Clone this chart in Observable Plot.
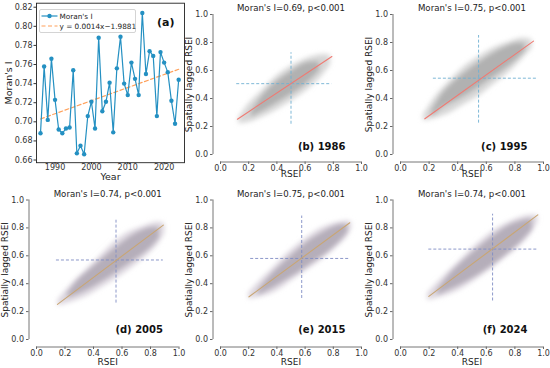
<!DOCTYPE html>
<html><head><meta charset="utf-8">
<script src="https://cdn.jsdelivr.net/npm/d3@7"></script>
<script src="https://cdn.jsdelivr.net/npm/@observablehq/plot@0.6"></script>
<style>
body{margin:0;background:#fff;}
#wrap{position:relative;width:550px;height:368px;overflow:hidden;font-family:"DejaVu Sans",sans-serif;background:#fff;}
.panel{position:absolute;}
.panel svg{overflow:visible;}
#legend{position:absolute;left:38.5px;top:9px;width:95px;height:22px;border:1px solid #d4d4d4;border-radius:2px;background:rgba(255,255,255,0.85);font-size:7.3px;color:#222;}
#legend .row{position:absolute;left:0;height:10px;display:flex;align-items:center;}
#legend span{position:absolute;left:20px;white-space:nowrap;}
</style></head><body><div id="wrap"></div>
<script>
// ---------- Panel (a) data ----------
const years = [1986,1987,1988,1989,1990,1991,1992,1993,1994,1995,1996,1997,1998,1999,2000,2001,2002,2003,2004,2005,2006,2007,2008,2009,2010,2011,2012,2013,2014,2015,2016,2017,2018,2019,2020,2021,2022,2023,2024];
const moransI = [0.688,0.758,0.702,0.766,0.723,0.692,0.688,0.693,0.694,0.754,0.667,0.675,0.666,0.706,0.721,0.693,0.788,0.711,0.721,0.741,0.689,0.756,0.789,0.740,0.728,0.762,0.745,0.728,0.814,0.750,0.774,0.769,0.706,0.773,0.762,0.752,0.722,0.698,0.744];
const trendYears = [1986, 2024];
const trendValues = [0.703, 0.755];
const yTicksA = [0.66,0.68,0.70,0.72,0.74,0.76,0.78,0.80,0.82];
const xTicksA = [1990,2000,2010,2020];
const legendLabels = ["Moran's I", "y = 0.0014x\u22121.9881"];

// ---------- Scatter panels data ----------
const scatterTicks = [0,0.2,0.4,0.6,0.8,1.0];
const panelIds = ["b","c","d","e","f"];
const panelTitles = ["Moran's I=0.69, p<0.001","Moran's I=0.75, p<0.001","Moran's I=0.74, p<0.001","Moran's I=0.75, p<0.001","Moran's I=0.74, p<0.001"];
const panelLabels = ["(b) 1986","(c) 1995","(d) 2005","(e) 2015","(f) 2024"];
// fitted line end points
const fitX1 = [0.12, 0.17, 0.147, 0.202, 0.198];
const fitY1 = [0.252, 0.255, 0.252, 0.306, 0.309];
const fitX2 = [0.79, 0.93, 0.89, 0.917, 0.96];
const fitY2 = [0.70, 0.81, 0.82, 0.837, 0.893];
// mean cross-hair
const meanX = [0.50, 0.546, 0.558, 0.576, 0.644];
const meanY = [0.506, 0.545, 0.57, 0.581, 0.648];
const vLineY1 = [0.216, 0.224, 0.261, 0.294, 0.276];
const vLineY2 = [0.727, 0.85, 0.855, 0.885, 0.898];
const hLineX1 = [0.115, 0.23, 0.14, 0.214, 0.198];
const hLineX2 = [0.79, 0.96, 0.89, 0.917, 0.96];
// point cloud outline (outer, sparse)
const cloudX_b = [0.13,0.2,0.3,0.4,0.5,0.6,0.7,0.78];
const cloudLo_b = [0.22,0.23,0.27,0.32,0.38,0.45,0.54,0.64];
const cloudHi_b = [0.26,0.36,0.46,0.56,0.63,0.68,0.71,0.71];
const cloudX_c = [0.16,0.25,0.35,0.45,0.55,0.65,0.75,0.85,0.92];
const cloudLo_c = [0.24,0.26,0.30,0.36,0.42,0.50,0.58,0.68,0.76];
const cloudHi_c = [0.28,0.42,0.53,0.63,0.70,0.76,0.80,0.83,0.82];
const cloudX_d = [0.15,0.25,0.35,0.45,0.55,0.65,0.75,0.85,0.9];
const cloudLo_d = [0.24,0.27,0.31,0.37,0.43,0.50,0.58,0.68,0.76];
const cloudHi_d = [0.28,0.40,0.50,0.60,0.70,0.77,0.81,0.84,0.83];
const cloudX_e = [0.2,0.3,0.4,0.5,0.6,0.7,0.8,0.9,0.93];
const cloudLo_e = [0.29,0.31,0.35,0.42,0.49,0.56,0.64,0.74,0.80];
const cloudHi_e = [0.33,0.44,0.54,0.64,0.72,0.79,0.83,0.85,0.84];
const cloudX_f = [0.19,0.3,0.4,0.5,0.6,0.7,0.8,0.9,0.96];
const cloudLo_f = [0.28,0.31,0.35,0.41,0.48,0.56,0.64,0.74,0.84];
const cloudHi_f = [0.33,0.45,0.55,0.65,0.74,0.81,0.86,0.89,0.89];
// point cloud core (dense)
const coreX_b = [0.22,0.3,0.4,0.5,0.6,0.7];
const coreLo_b = [0.27,0.31,0.37,0.43,0.50,0.60];
const coreHi_b = [0.30,0.42,0.52,0.59,0.65,0.66];
const coreX_c = [0.22,0.3,0.4,0.5,0.6,0.7,0.8,0.87];
const coreLo_c = [0.27,0.34,0.39,0.45,0.52,0.59,0.67,0.74];
const coreHi_c = [0.31,0.44,0.54,0.62,0.69,0.75,0.79,0.79];
const coreX_d = [0.22,0.3,0.4,0.5,0.6,0.7,0.8,0.86];
const coreLo_d = [0.30,0.33,0.38,0.44,0.51,0.58,0.66,0.73];
const coreHi_d = [0.33,0.43,0.52,0.61,0.69,0.76,0.80,0.80];
const coreX_e = [0.27,0.35,0.45,0.55,0.65,0.75,0.85,0.9];
const coreLo_e = [0.32,0.36,0.42,0.48,0.55,0.62,0.71,0.77];
const coreHi_e = [0.35,0.45,0.55,0.64,0.72,0.78,0.82,0.82];
const coreX_f = [0.26,0.35,0.45,0.55,0.65,0.75,0.85,0.92];
const coreLo_f = [0.32,0.36,0.41,0.47,0.54,0.62,0.71,0.79];
const coreHi_f = [0.35,0.47,0.57,0.66,0.74,0.81,0.85,0.86];

const clouds = {
  b:[cloudX_b,cloudLo_b,cloudHi_b,coreX_b,coreLo_b,coreHi_b],
  c:[cloudX_c,cloudLo_c,cloudHi_c,coreX_c,coreLo_c,coreHi_c],
  d:[cloudX_d,cloudLo_d,cloudHi_d,coreX_d,coreLo_d,coreHi_d],
  e:[cloudX_e,cloudLo_e,cloudHi_e,coreX_e,coreLo_e,coreHi_e],
  f:[cloudX_f,cloudLo_f,cloudHi_f,coreX_f,coreLo_f,coreHi_f]
};

const wrap = document.getElementById("wrap");
const baseStyle = {fontFamily:"DejaVu Sans, sans-serif", fontSize:"8px", color:"#333", background:"transparent", overflow:"visible"};
const ns = "http://www.w3.org/2000/svg";

function place(el, left, top) {
  const d = document.createElement("div");
  d.className = "panel";
  d.style.left = left + "px";
  d.style.top = top + "px";
  d.appendChild(el);
  wrap.appendChild(d);
  return d;
}
function addBlur(svg, id, sd, w, h) {
  let defs = svg.querySelector("defs");
  if (!defs) { defs = document.createElementNS(ns, "defs"); svg.insertBefore(defs, svg.firstChild); }
  const f = document.createElementNS(ns, "filter");
  f.setAttribute("id", id);
  f.setAttribute("filterUnits","userSpaceOnUse");
  f.setAttribute("x","0"); f.setAttribute("y","0"); f.setAttribute("width", w); f.setAttribute("height", h);
  const gb = document.createElementNS(ns, "feGaussianBlur");
  gb.setAttribute("stdDeviation", sd);
  f.appendChild(gb); defs.appendChild(f);
}

// ---------- Panel (a) ----------
const series = years.map((y,i)=>({year:y, value:moransI[i]}));
const trend = trendYears.map((y,i)=>({year:y, value:trendValues[i]}));
const lineBlue = "#2490c2", trendOrange = "#ffa05a";
const pa = Plot.plot({
  width:185, height:185, marginLeft:36, marginRight:1, marginTop:2.7, marginBottom:22.8,
  x:{domain:[1984.9,2025.6]}, y:{domain:[0.6572,0.8242]},
  style:baseStyle,
  marks:[
    Plot.axisX({ticks:xTicksA, tickSize:2, tickPadding:0, tickFormat:d3.format("d"), label:null}),
    Plot.axisY({ticks:yTicksA, tickFormat:d3.format(".2f"), tickSize:2.5, tickPadding:1.5, label:null}),
    Plot.line(trend, {x:"year", y:"value", stroke:trendOrange, strokeWidth:1.2, strokeDasharray:"4,2.5"}),
    Plot.line(series, {x:"year", y:"value", stroke:lineBlue, strokeWidth:1.2}),
    Plot.dot(series, {x:"year", y:"value", r:2.2, fill:lineBlue, stroke:"none"}),
    Plot.frame({stroke:"#222", strokeWidth:0.9}),
    Plot.text(["Year"], {text:d=>d, frameAnchor:"bottom", lineAnchor:"middle", dy:14.5, fontSize:9.5, fill:"#222"}),
    Plot.text(["Moran's I"], {text:d=>d, frameAnchor:"left", textAnchor:"middle", lineAnchor:"middle", dx:-28, rotate:-90, fontSize:9.5, fill:"#222"}),
    Plot.text(["(a)"], {text:d=>d, frameAnchor:"top-right", lineAnchor:"middle", dx:-10, dy:19.3, fontSize:11, fontWeight:"bold", fill:"#111"})
  ]
});
place(pa, 0, 0);

// legend
const leg = document.createElement("div");
leg.id = "legend";
leg.innerHTML = `
 <div class="row" style="top:1px;width:95px">
   <svg width="18" height="10" style="position:absolute;left:1px"><line x1="0.5" y1="5" x2="16.5" y2="5" stroke="${lineBlue}" stroke-width="1.2"/><circle cx="8.5" cy="5" r="2.2" fill="${lineBlue}"/></svg>
   <span>${legendLabels[0]}</span></div>
 <div class="row" style="top:11px;width:95px">
   <svg width="18" height="10" style="position:absolute;left:1px"><line x1="0.5" y1="5" x2="16.5" y2="5" stroke="${trendOrange}" stroke-width="1.2" stroke-dasharray="4,2.5"/></svg>
   <span>${legendLabels[1]}</span></div>`;
wrap.appendChild(leg);

// ---------- Scatter panels ----------
const geom = {
  b:{left:183, top:0, ml:37, mr:7, mt:14, mb:30, row:0},
  c:{left:365, top:0, ml:35, mr:7, mt:14, mb:30, row:0},
  d:{left:0, top:184, ml:36, mr:6.5, mt:15.5, mb:29, row:1},
  e:{left:183, top:184, ml:37, mr:7, mt:15.5, mb:29, row:1},
  f:{left:365, top:184, ml:35, mr:7, mt:15.5, mb:29, row:1}
};
const rowStyle = [
  {outer:"#d6d6d6", core:"#b1b1b1", fit:"#f07a72", cross:"#6fb0d2", labelPad:0.5, xlab:19.5},
  {outer:"#dbd5de", core:"#b5aeba", fit:"#c9a674", cross:"#7f8cc4", labelPad:0.8, xlab:22.7}
];

panelIds.forEach((id, i) => {
  const g = geom[id];
  const s = rowStyle[g.row];
  const [cx, clo, chi, kx, klo, khi] = clouds[id];
  const outer = cx.map((x,j)=>({x, lo:clo[j], hi:chi[j]}));
  const core = kx.map((x,j)=>({x, lo:klo[j], hi:khi[j]}));
  const fit = [{x:fitX1[i], y:fitY1[i]}, {x:fitX2[i], y:fitY2[i]}];
  const off = 7.5;
  const p = Plot.plot({
    width:185, height:184, marginLeft:g.ml, marginRight:g.mr, marginTop:g.mt, marginBottom:g.mb,
    x:{domain:[0,1]}, y:{domain:[0,1]},
    style:baseStyle,
    marks:[
      Plot.areaY(outer, {x:"x", y1:"lo", y2:"hi", fill:s.outer, curve:"catmull-rom"}),
      Plot.areaY(core, {x:"x", y1:"lo", y2:"hi", fill:s.core, curve:"catmull-rom"}),
      Plot.ruleX([meanX[i]], {x:d=>d, y1:vLineY1[i], y2:vLineY2[i], stroke:s.cross, strokeWidth:0.9, strokeDasharray:"3,2"}),
      Plot.ruleY([meanY[i]], {y:d=>d, x1:hLineX1[i], x2:hLineX2[i], stroke:s.cross, strokeWidth:0.9, strokeDasharray:"3,2"}),
      Plot.line(fit, {x:"x", y:"y", stroke:s.fit, strokeWidth:1.1}),
      Plot.ruleX([0], {x:d=>d, y1:0, y2:1, dx:-off, stroke:"#666", strokeWidth:0.9}),
      Plot.ruleY([0], {y:d=>d, x1:0, x2:1, dy:off, stroke:"#666", strokeWidth:0.9}),
      Plot.axisY({ticks:scatterTicks, tickFormat:d3.format(".1f"), dx:-off, tickSize:2.5, tickPadding:2.5, stroke:"#666", label:null}),
      Plot.axisX({ticks:scatterTicks, tickSize:2.5, tickPadding:s.labelPad, tickFormat:d3.format(".1f"), dy:off, stroke:"#666", label:null}),
      Plot.text([panelTitles[i]], {text:d=>d, frameAnchor:"top", lineAnchor:"middle", dy:-6, fontSize:8.6, fill:"#222"}),
      Plot.text(["RSEI"], {text:d=>d, frameAnchor:"bottom", lineAnchor:"middle", dy:s.xlab, fontSize:9, fill:"#222"}),
      Plot.text(["Spatially lagged RSEI"], {text:d=>d, frameAnchor:"left", textAnchor:"middle", lineAnchor:"middle", dx:-31, rotate:-90, fontSize:9, fill:"#222"}),
      Plot.text([panelLabels[i]], {text:d=>d, frameAnchor:"bottom-right", textAnchor:"end", lineAnchor:"middle", dx:-16, dy:g.row===0?-7.5:-10, fontSize:10, fontWeight:"bold", fill:"#111"})
    ]
  });
  const svg = p.tagName.toLowerCase()==="svg" ? p : p.querySelector("svg");
  addBlur(svg, "blurO-" + id, 2.4, 185, 184);
  addBlur(svg, "blurC-" + id, 2, 185, 184);
  const areas = svg.querySelectorAll('g[aria-label="area"]');
  if (areas.length > 1) {
    areas[0].setAttribute("filter", `url(#blurO-${id})`);
    areas[1].setAttribute("filter", `url(#blurC-${id})`);
  }
  place(p, g.left, g.top);
});
</script></body></html>
